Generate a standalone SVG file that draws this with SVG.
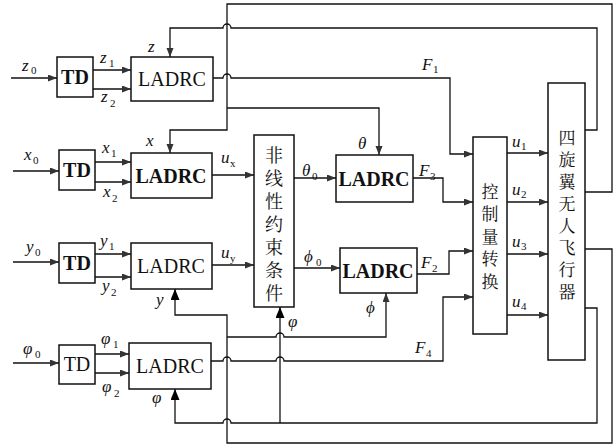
<svg xmlns="http://www.w3.org/2000/svg" width="614" height="448" viewBox="0 0 614 448">
<defs>
<marker id="a" markerUnits="userSpaceOnUse" markerWidth="10" markerHeight="8" refX="9" refY="3.5" orient="auto"><path d="M0,0 L9,3.5 L0,7 z" fill="#333"/></marker>
<marker id="f" markerUnits="userSpaceOnUse" markerWidth="12" markerHeight="10" refX="11" refY="4.5" orient="auto"><path d="M0,0 L11,4.5 L0,9 z" fill="#000"/></marker>
<style>
.box{fill:#fff;stroke:#111;stroke-width:1.5}
.ln{fill:none;stroke:#111;stroke-width:1.3}
.ar{marker-end:url(#a)}
.fa{marker-end:url(#f)}
.b{font-family:"Liberation Serif","DejaVu Serif",serif;font-size:20px;text-anchor:middle;fill:#111}
.bb{font-weight:bold}
.m{font-family:"Liberation Serif","DejaVu Serif",serif;font-style:italic;font-size:17px;fill:#111}
.s{font-family:"Liberation Serif","DejaVu Serif",serif;font-style:normal;font-size:11px;fill:#111}
.v{font-family:"Noto Serif CJK SC","Noto Sans CJK SC",serif;writing-mode:vertical-rl;fill:#111}
</style>
</defs>

<g id="connectors">
<path class="ln ar" d="M11,78 H57"/>
<path class="ln ar" d="M13,171 H59"/>
<path class="ln ar" d="M13,262 H59"/>
<path class="ln ar" d="M13,363 H59"/>
<path class="ln ar" d="M93,70 H131"/>
<path class="ln ar" d="M93,89 H131"/>
<path class="ln ar" d="M95,162 H131"/>
<path class="ln ar" d="M95,182 H131"/>
<path class="ln ar" d="M95,254 H131"/>
<path class="ln ar" d="M95,277 H131"/>
<path class="ln ar" d="M95,354 H129"/>
<path class="ln ar" d="M95,373 H129"/>
<path class="ln ar" d="M585,192 H612 V4 H227 V130 H170 V153"/>
<path class="ln ar" d="M227,108 H379 V155"/>
<path class="ln ar" d="M585,130 H597 V28 H231 A4,4 0 0 0 223,28 H170 V57"/>
<path class="ln ar" d="M213,78 H223 A4,4 0 0 1 231,78 H450 V154 H473"/>
<path class="ln ar" d="M212,175 H254"/>
<path class="ln ar" d="M212,265 H254"/>
<path class="ln ar" d="M294,178 H336"/>
<path class="ln ar" d="M294,268 H340"/>
<path class="ln ar" d="M413,178 H443 V202 H473"/>
<path class="ln ar" d="M417,274 H449 V251 H473"/>
<path class="ln ar" d="M211,361 H223 A4,4 0 0 1 231,361 H276 A4,4 0 0 1 284,361 H443 V297 H473"/>
<path class="ln fa" d="M585,249 H612 V443 H227 V315 H175 V289"/>
<path class="ln ar" d="M227,337 H276 A4,4 0 0 1 284,337 H386 V293"/>
<path class="ln fa" d="M585,308 H597 V423 H231 A4,4 0 0 0 223,423 H175 V389"/>
<path class="ln fa" d="M280,423 V307"/>
<path class="ln ar" d="M507,153 H548"/>
<path class="ln ar" d="M507,202 H548"/>
<path class="ln ar" d="M507,254 H548"/>
<path class="ln ar" d="M507,315 H548"/>
</g>

<g id="labels">
<text class="m" x="22" y="71">z</text><text class="s" x="31" y="74">0</text>
<text class="m" x="100" y="63">z</text><text class="s" x="109" y="67">1</text>
<text class="m" x="101" y="102">z</text><text class="s" x="110" y="107">2</text>
<text class="m" x="148" y="52">z</text>
<text class="m" x="24" y="160">x</text><text class="s" x="33" y="164">0</text>
<text class="m" x="102" y="153">x</text><text class="s" x="111" y="157">1</text>
<text class="m" x="103" y="197">x</text><text class="s" x="112" y="202">2</text>
<text class="m" x="146" y="146">x</text>
<text class="m" x="221" y="163">u</text><text class="s" x="230" y="167" font-style="italic">x</text>
<text class="m" x="26" y="252">y</text><text class="s" x="35" y="256">0</text>
<text class="m" x="100" y="246">y</text><text class="s" x="109" y="250">1</text>
<text class="m" x="102" y="291">y</text><text class="s" x="111" y="296">2</text>
<text class="m" x="156" y="305">y</text>
<text class="m" x="221" y="258">u</text><text class="s" x="230" y="262" font-style="italic">y</text>
<text class="m" x="23" y="354">φ</text><text class="s" x="35" y="358">0</text>
<text class="m" x="101" y="344">φ</text><text class="s" x="113" y="348">1</text>
<text class="m" x="102" y="392">φ</text><text class="s" x="114" y="397">2</text>
<text class="m" x="152" y="403">φ</text>
<text class="m" x="302" y="176">θ</text><text class="s" x="312" y="180">0</text>
<text class="m" x="358" y="149">θ</text>
<text class="m" x="419" y="176">F</text><text class="s" x="430" y="180">3</text>
<text class="m" x="304" y="262">ϕ</text><text class="s" x="316" y="266">0</text>
<text class="m" x="421" y="268">F</text><text class="s" x="432" y="272">2</text>
<text class="m" x="422" y="70">F</text><text class="s" x="433" y="73">1</text>
<text class="m" x="415" y="353">F</text><text class="s" x="426" y="357">4</text>
<text class="m" x="366" y="313">ϕ</text>
<text class="m" x="288" y="327">φ</text>
<text class="m" x="512" y="147">u</text><text class="s" x="521" y="150">1</text>
<text class="m" x="512" y="195">u</text><text class="s" x="521" y="198">2</text>
<text class="m" x="512" y="247">u</text><text class="s" x="521" y="250">3</text>
<text class="m" x="512" y="307">u</text><text class="s" x="521" y="310">4</text>
</g>

<g id="td1"><rect class="box" x="57" y="57" width="36" height="40"/><text class="b bb" x="75" y="84">TD</text></g>
<g id="td2"><rect class="box" x="59" y="150" width="36" height="40"/><text class="b bb" x="77" y="177">TD</text></g>
<g id="td3"><rect class="box" x="59" y="243" width="36" height="40"/><text class="b bb" x="77" y="270">TD</text></g>
<g id="td4"><rect class="box" x="59" y="345" width="36" height="39"/><text class="b" x="77" y="371">TD</text></g>

<g id="ladrc_z"><rect class="box" x="131" y="57" width="82" height="44"/><text class="b" x="172" y="86">LADRC</text></g>
<g id="ladrc_x"><rect class="box" x="131" y="153" width="81" height="45"/><text class="b bb" x="171" y="183">LADRC</text></g>
<g id="ladrc_y"><rect class="box" x="131" y="243" width="81" height="46"/><text class="b" x="171" y="273">LADRC</text></g>
<g id="ladrc_psi"><rect class="box" x="129" y="343" width="82" height="46"/><text class="b" x="170" y="373">LADRC</text></g>
<g id="ladrc_theta"><rect class="box" x="336" y="155" width="77" height="47"/><text class="b bb" x="374" y="186">LADRC</text></g>
<g id="ladrc_phi"><rect class="box" x="340" y="248" width="77" height="45"/><text class="b bb" x="378" y="278">LADRC</text></g>

<g id="nonlinear"><rect class="box" x="254" y="135" width="40" height="172"/>
<text class="v" x="274" y="146" style="font-size:18px;letter-spacing:5px">非线性约束条件</text></g>

<g id="convert"><rect class="box" x="473" y="137" width="34" height="197"/>
<text class="v" x="490" y="183" style="font-size:17px;letter-spacing:5.5px">控制量转换</text></g>

<g id="uav"><rect class="box" x="548" y="83" width="37" height="277"/>
<text class="v" x="567" y="129" style="font-size:17px;letter-spacing:5px">四旋翼无人飞行器</text></g>
</svg>
